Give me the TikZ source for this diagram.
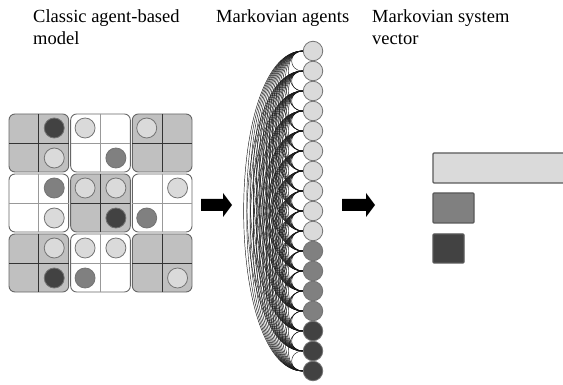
\documentclass[tikz,border=0pt]{standalone}
\usepackage{fontspec}
\setmainfont{Liberation Serif}
\usetikzlibrary{positioning}

\definecolor{lightagent}{HTML}{DADADA}
\definecolor{midagent}{HTML}{808080}
\definecolor{darkagent}{HTML}{424242}
\definecolor{blockgray}{HTML}{C0C0C0}

\begin{document}
\begin{tikzpicture}[
        x=1pt, y=-1pt,
        caption/.style={anchor=north west, inner sep=0pt, align=left,
            font=\fontsize{18.5}{22}\selectfont},
        block/.style={draw=black!60, line width=0.9pt, rounded corners=6pt},
        agent/.style={circle, draw=black!55, line width=0.8pt,
            minimum size=20pt, inner sep=0pt},
        link/.style={line width=0.45pt, black!90},
        sysbar/.style={draw=black!65, line width=1.3pt, rounded corners=1pt},
        fatarrow/.style={fill=black}
    ]
    \clip (0,0) rectangle (563,385);

    \node[caption] (abmtitle) at (33,9) {Classic agent-based\\model};
    \node[caption] (matitle) at (216,9) {Markovian agents};
    \node[caption] (vectitle) at (372,9) {Markovian system\\vector};

    % lattice of 3x3 blocks, each split into 2x2 cells
    \foreach \bx/\by/\col/\ln in {0/0/blockgray/black!80, 1/0/white/black!40, 2/0/blockgray/black!80,
                                  0/1/white/black!40, 1/1/blockgray/black!80, 2/1/white/black!40,
                                  0/2/blockgray/black!80, 1/2/white/black!40, 2/2/blockgray/black!80} {
        \draw[block, fill=\col] (8+\bx*61.67+1, 113+\by*60+1) rectangle (8+\bx*61.67+60.67, 113+\by*60+59);
        \draw[\ln, line width=0.8pt] (8+\bx*61.67+30.83, 113+\by*60+1) -- ++(0,58);
        \draw[\ln, line width=0.8pt] (8+\bx*61.67+1, 113+\by*60+30) -- ++(59.67,0);
    }

    % agents on the lattice (column/row of their cell)
    \foreach \c/\r/\col [count=\k] in {2/1/darkagent, 3/1/lightagent, 5/1/lightagent,
                                       2/2/lightagent, 4/2/midagent,
                                       2/3/midagent, 3/3/lightagent, 4/3/lightagent, 6/3/lightagent,
                                       2/4/lightagent, 4/4/darkagent, 5/4/midagent,
                                       2/5/lightagent, 3/5/lightagent, 4/5/lightagent,
                                       2/6/darkagent, 3/6/midagent, 6/6/lightagent}
        \node[agent, fill=\col] (g\k) at (8+\c*30.83-15.42, 113+\r*30-15) {};

    % column of Markovian agents
    \foreach \col [count=\i] in {lightagent, lightagent, lightagent, lightagent, lightagent,
                                 lightagent, lightagent, lightagent, lightagent, lightagent,
                                 midagent, midagent, midagent, midagent,
                                 darkagent, darkagent, darkagent}
        \node[agent, fill=\col, minimum size=19.5pt] (m\i) at (313, 31+\i*20) {};

    % every pair of agents is linked
    \foreach \i in {1,...,16} {
        \pgfmathtruncatemacro{\nxt}{\i+1}
        \foreach \j in {\nxt,...,17} {
            \pgfmathsetmacro{\pull}{(8+3.2*(\j-\i))/0.75}
            \draw[link] (m\i.west) .. controls +(-\pull,0) and +(-\pull,0) .. (m\j.west);
        }
    }

    \foreach \s/\e in {201/223, 342/366}
        \fill[fatarrow] (\s,199) -- (\e,199) -- (\e,193) -- (\e+9,205) -- (\e,217) -- (\e,211) -- (\s,211) -- cycle;

    % system vector
    \draw[sysbar, fill=lightagent] (433,153) rectangle (575,183);
    \draw[sysbar, fill=midagent] (433,193) rectangle (474,223);
    \draw[sysbar, fill=darkagent] (433,234) rectangle (464,263);
\end{tikzpicture}
\end{document}
